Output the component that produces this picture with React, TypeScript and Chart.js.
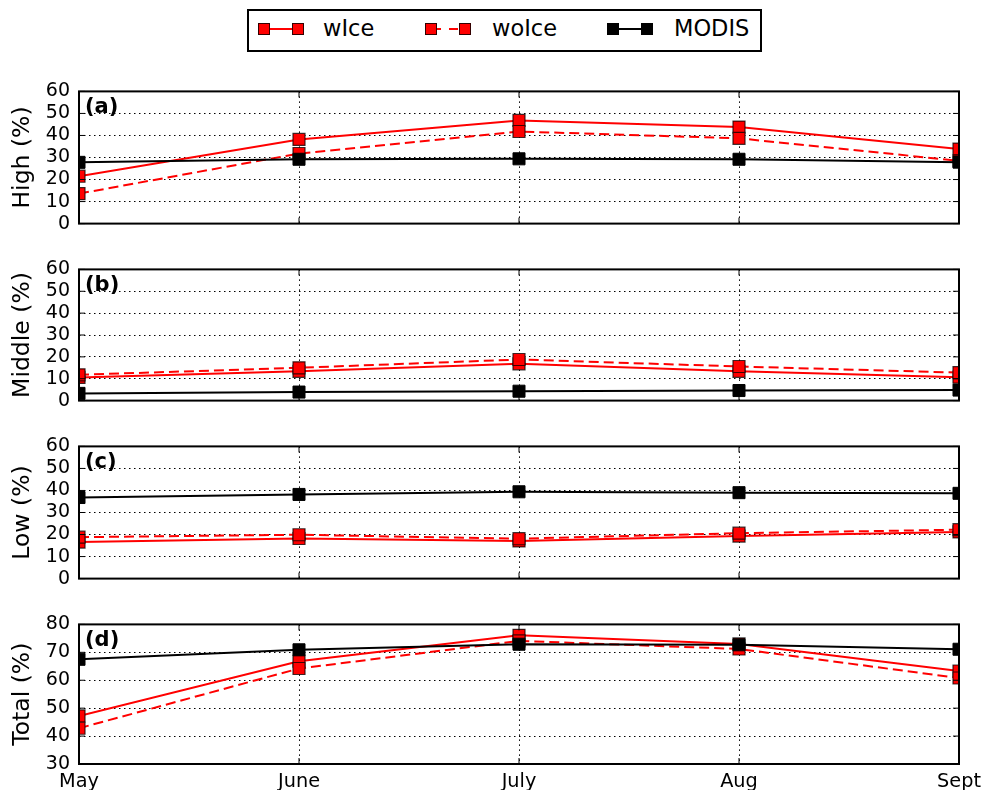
import React, { useEffect, useRef } from 'react';
import { Chart, registerables } from 'chart.js';

Chart.register(...registerables);

const FONT = 'DejaVu Sans';

const months = ['May', 'June', 'July', 'Aug', 'Sept'];
const seriesNames = ['wIce', 'woIce', 'MODIS'];

const highWIce = [21.5, 38.2, 46.8, 43.8, 33.8];
const highWoIce = [13.6, 31.8, 41.8, 38.7, 28.5];
const highModis = [27.8, 29.2, 29.4, 29.2, 27.9];

const midWIce = [10.6, 13.4, 16.8, 13.4, 10.7];
const midWoIce = [11.8, 15.0, 18.8, 15.6, 12.8];
const midModis = [3.3, 3.9, 4.3, 4.6, 4.8];

const lowWIce = [16.6, 18.2, 17.1, 19.3, 21.2];
const lowWoIce = [18.8, 19.9, 18.1, 20.6, 22.2];
const lowModis = [36.8, 38.2, 39.4, 39.0, 38.7];

const totWIce = [47.2, 66.8, 76.1, 73.0, 63.3];
const totWoIce = [42.8, 64.2, 74.1, 71.2, 60.8];
const totModis = [67.5, 70.9, 72.9, 72.7, 71.1];

const panelLabels = ['(a)', '(b)', '(c)', '(d)'];
const panelTitles = ['High (%)', 'Middle (%)', 'Low (%)', 'Total (%)'];
const yMins = [0, 0, 0, 30];
const yMaxs = [60, 60, 60, 80];

type PanelProps = {
  top: number;
  chartTop: number;
  chartBottom: number;
  showX: boolean;
  label: string;
  title: string;
  yMin: number;
  yMax: number;
  wIce: number[];
  woIce: number[];
  modis: number[];
};

function Panel(p: PanelProps) {
  const ref = useRef<HTMLCanvasElement | null>(null);
  const padTop = p.chartTop - p.top;
  const bottomSpace = p.showX ? 26 : 12;
  const height = padTop + (p.chartBottom - p.chartTop) + bottomSpace;

  useEffect(() => {
    if (!ref.current) return;
    const pointBorder = 'rgba(0,0,0,0.75)';
    const chart = new Chart(ref.current, {
      type: 'line',
      data: {
        labels: months,
        datasets: [
          {
            label: seriesNames[2],
            data: p.modis,
            borderColor: '#000000',
            backgroundColor: '#000000',
            borderWidth: 2,
            pointStyle: 'rect',
            pointRadius: 8.5,
            pointBorderColor: '#000000',
            pointBackgroundColor: '#000000',
            pointBorderWidth: 1,
            clip: 0,
            order: 0,
          },
          {
            label: seriesNames[1],
            data: p.woIce,
            borderColor: '#ff0000',
            backgroundColor: '#ff0000',
            borderWidth: 2,
            borderDash: [10, 5],
            pointStyle: 'rect',
            pointRadius: 8.5,
            pointBorderColor: pointBorder,
            pointBackgroundColor: '#ff0000',
            pointBorderWidth: 1.2,
            clip: 0,
            order: 1,
          },
          {
            label: seriesNames[0],
            data: p.wIce,
            borderColor: '#ff0000',
            backgroundColor: '#ff0000',
            borderWidth: 2,
            pointStyle: 'rect',
            pointRadius: 8.5,
            pointBorderColor: pointBorder,
            pointBackgroundColor: '#ff0000',
            pointBorderWidth: 1.2,
            clip: 0,
            order: 2,
          },
        ],
      },
      options: {
        animation: false,
        responsive: false,
        maintainAspectRatio: false,
        events: [],
        layout: { padding: { top: padTop, bottom: p.showX ? 0 : bottomSpace, left: 0, right: 36 } },
        plugins: {
          legend: { display: false },
          tooltip: { enabled: false },
        },
        scales: {
          x: {
            type: 'category',
            offset: false,
            afterFit: (s: any) => {
              s.height = p.showX ? bottomSpace : 0;
            },
            grid: {
              display: true,
              color: '#000000',
              lineWidth: 1,
              drawTicks: false,
            },
            border: { display: false, dash: [1.5, 3.5] },
            ticks: {
              display: p.showX,
              color: '#000000',
              padding: 6,
              maxRotation: 0,
              autoSkip: false,
              font: { family: FONT, size: 19.3 },
            },
          },
          y: {
            type: 'linear',
            min: p.yMin,
            max: p.yMax,
            afterFit: (s: any) => {
              s.width = 79;
            },
            grid: {
              display: true,
              color: '#000000',
              lineWidth: 1,
              drawTicks: false,
            },
            border: { display: false, dash: [1.5, 3.5] },
            ticks: {
              stepSize: 10,
              autoSkip: false,
              color: '#000000',
              padding: 9,
              font: { family: FONT, size: 19 },
            },
            title: {
              display: true,
              text: p.title,
              color: '#000000',
              padding: { top: 9, bottom: 0 },
              font: { family: FONT, size: 23.5 },
            },
          },
        },
      },
      plugins: [
        {
          id: 'frameAndLabel',
          afterDatasetsDraw(c: any) {
            const { ctx, chartArea } = c;
            const xs = c.scales.x;
            const ys = c.scales.y;
            ctx.save();
            ctx.strokeStyle = '#000000';
            ctx.lineWidth = 1;
            ctx.beginPath();
            const tl = 6;
            ys.ticks.forEach((t: any) => {
              const y = ys.getPixelForValue(t.value);
              ctx.moveTo(chartArea.left, y);
              ctx.lineTo(chartArea.left + tl, y);
              ctx.moveTo(chartArea.right, y);
              ctx.lineTo(chartArea.right - tl, y);
            });
            xs.ticks.forEach((_t: any, i: number) => {
              const x = xs.getPixelForTick(i);
              ctx.moveTo(x, chartArea.bottom);
              ctx.lineTo(x, chartArea.bottom - tl);
              ctx.moveTo(x, chartArea.top);
              ctx.lineTo(x, chartArea.top + tl);
            });
            ctx.stroke();
            ctx.lineWidth = 2;
            ctx.strokeRect(chartArea.left, chartArea.top, chartArea.right - chartArea.left, chartArea.bottom - chartArea.top);
            ctx.fillStyle = '#000000';
            ctx.font = `bold 21px "${FONT}"`;
            ctx.textAlign = 'left';
            ctx.textBaseline = 'middle';
            ctx.fillText(p.label, chartArea.left + 6, chartArea.top + 16);
            ctx.restore();
          },
        },
      ],
    } as any);
    return () => chart.destroy();
  }, []);

  return (
    <canvas
      ref={ref}
      width={995}
      height={height}
      style={{ position: 'absolute', left: 0, top: p.top, width: 995, height }}
    />
  );
}

function Sample({ x, color, dashed }: { x: number; color: string; dashed: boolean }) {
  const sq = (left: number) => (
    <div
      style={{
        position: 'absolute',
        left,
        top: 23,
        width: 12,
        height: 12,
        background: color,
        border: '1px solid rgba(0,0,0,0.8)',
        boxSizing: 'border-box',
      }}
    />
  );
  return (
    <>
      {dashed ? (
        <>
          <div style={{ position: 'absolute', left: x + 11, top: 28, width: 5, height: 2, background: color }} />
          <div style={{ position: 'absolute', left: x + 24, top: 28, width: 9, height: 2, background: color }} />
        </>
      ) : (
        <div style={{ position: 'absolute', left: x + 6, top: 28, width: 34, height: 2, background: color }} />
      )}
      {sq(x)}
      {sq(x + 34)}
    </>
  );
}

function Legend() {
  const textStyle = (left: number): React.CSSProperties => ({
    position: 'absolute',
    left,
    top: 15,
    fontFamily: FONT,
    fontSize: 22.5,
    lineHeight: '27px',
    color: '#000',
    whiteSpace: 'nowrap',
  });
  return (
    <>
      <div
        style={{
          position: 'absolute',
          left: 247,
          top: 9,
          width: 515,
          height: 43,
          border: '2px solid #000',
          boxSizing: 'border-box',
          background: '#fff',
        }}
      />
      <Sample x={258} color="#ff0000" dashed={false} />
      <div style={textStyle(323)}>{seriesNames[0]}</div>
      <Sample x={425} color="#ff0000" dashed={true} />
      <div style={textStyle(492)}>{seriesNames[1]}</div>
      <Sample x={607} color="#000000" dashed={false} />
      <div style={textStyle(674)}>{seriesNames[2]}</div>
    </>
  );
}

export default function App() {
  const panels = [
    { chartTop: 83, chartBottom: 232, wIce: highWIce, woIce: highWoIce, modis: highModis },
    { chartTop: 261, chartBottom: 409, wIce: midWIce, woIce: midWoIce, modis: midModis },
    { chartTop: 438, chartBottom: 587, wIce: lowWIce, woIce: lowWoIce, modis: lowModis },
    { chartTop: 616, chartBottom: 764, wIce: totWIce, woIce: totWoIce, modis: totModis },
  ];
  return (
    <div style={{ position: 'absolute', left: 0, top: 0, width: 995, height: 790, background: '#fff', overflow: 'hidden' }}>
      <Legend />
      {panels.map((pp, i) => (
        <Panel
          key={i}
          top={pp.chartTop - 12}
          chartTop={pp.chartTop}
          chartBottom={pp.chartBottom}
          showX={i === 3}
          label={panelLabels[i]}
          title={panelTitles[i]}
          yMin={yMins[i]}
          yMax={yMaxs[i]}
          wIce={pp.wIce}
          woIce={pp.woIce}
          modis={pp.modis}
        />
      ))}
    </div>
  );
}
